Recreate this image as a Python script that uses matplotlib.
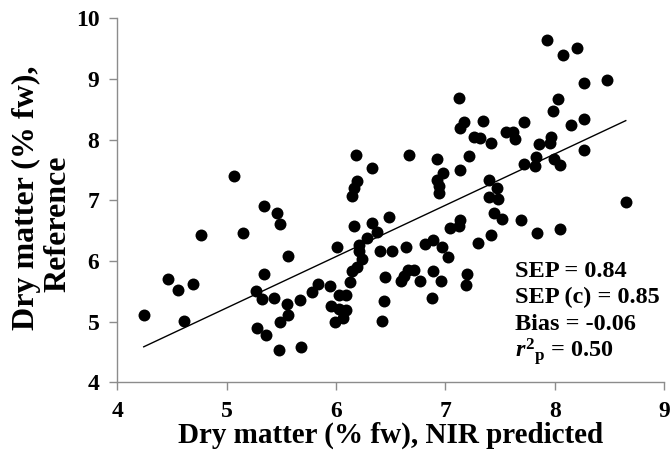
import numpy as np
import matplotlib
matplotlib.use("Agg")
import matplotlib.pyplot as plt

plt.rcParams['font.family'] = ['Liberation Serif', 'DejaVu Serif']
plt.rcParams['font.weight'] = 'bold'
plt.rcParams['mathtext.fontset'] = 'custom'
plt.rcParams['mathtext.rm'] = 'Liberation Serif:bold'
plt.rcParams['mathtext.it'] = 'Liberation Serif:italic:bold'
plt.rcParams['mathtext.bf'] = 'Liberation Serif:bold'

# NIR predicted dry matter (% fw)
nir_predicted = [
    4.24, 4.46, 4.55, 4.61, 4.69, 4.76, 5.07, 5.15, 5.27, 5.28,
    5.32, 5.34, 5.34, 5.36, 5.43, 5.46, 5.48, 5.49, 5.49, 5.55,
    5.56, 5.56, 5.67, 5.68, 5.78, 5.83, 5.94, 5.95, 5.99, 6.01,
    6.03, 6.09, 6.03, 6.09, 6.06, 6.13, 6.15, 6.19, 6.24, 6.21,
    6.21, 6.16, 6.28, 6.33, 6.37, 6.48, 6.40, 6.51, 6.64, 6.15,
    6.16, 6.19, 6.18, 6.33, 6.67, 6.45, 6.44, 6.42, 6.59, 6.62,
    6.66, 6.71, 6.77, 6.81, 6.89, 6.97, 7.02, 6.89, 6.96, 6.88,
    7.20, 7.19, 7.04, 7.12, 7.13, 7.30, 7.42, 7.44, 7.52, 7.69,
    7.84, 8.05, 7.40, 7.48, 7.40, 7.47, 7.13, 6.98, 6.92, 6.94,
    6.94, 6.92, 7.22, 7.72, 7.83, 7.82, 7.99, 8.05, 8.27, 7.86,
    7.97, 7.96, 8.15, 8.27, 7.72, 7.55, 7.62, 7.64, 7.42, 7.26,
    7.32, 7.17, 7.13, 7.34, 7.12, 7.98, 8.03, 8.27, 8.48, 7.93,
    8.08, 8.20, 8.65,
]
# Reference dry matter (% fw)
reference = [
    5.12, 5.70, 5.52, 5.01, 5.62, 6.43, 7.41, 6.46, 5.51, 4.90,
    5.38, 5.79, 6.91, 4.79, 5.40, 6.79, 4.54, 6.61, 4.99, 5.29,
    6.08, 5.11, 5.36, 4.58, 5.49, 5.63, 5.59, 5.26, 4.99, 6.24,
    5.44, 5.44, 5.21, 5.19, 5.06, 5.66, 5.84, 5.91, 6.03, 6.16,
    6.27, 6.57, 6.38, 6.63, 6.48, 6.72, 6.17, 6.16, 6.24, 7.07,
    7.20, 7.32, 7.74, 7.53, 7.75, 5.73, 5.35, 5.02, 5.68, 5.76,
    5.86, 5.86, 5.68, 6.28, 6.35, 6.24, 6.06, 5.83, 5.68, 5.39,
    5.79, 5.61, 6.55, 6.57, 6.68, 6.29, 6.43, 6.79, 6.69, 6.68,
    6.47, 6.53, 7.05, 7.03, 7.33, 7.20, 7.50, 7.45, 7.34, 7.23,
    7.12, 7.69, 7.73, 7.60, 7.71, 7.57, 7.69, 7.58, 7.83, 7.93,
    8.04, 7.95, 8.25, 8.34, 8.29, 8.13, 8.12, 8.01, 7.95, 8.05,
    8.02, 8.29, 8.19, 8.31, 8.68, 8.48, 8.67, 8.93, 8.98, 9.64,
    9.40, 9.51, 6.98,
]

# Fitted line
fit_slope = 0.845
fit_intercept = 1.005

stats_lines = ["SEP = 0.84", "SEP (c) = 0.85", "Bias = -0.06",
               r"$\mathit{r}^{2}{}_{\mathrm{p}}$ = 0.50"]

x_ticks = [4, 5, 6, 7, 8, 9]
y_ticks = [4, 5, 6, 7, 8, 9, 10]

fig = plt.figure(figsize=(6.71, 4.59), dpi=100)
ax = fig.add_axes([0.1751, 0.1667, 0.8145, 0.7934])

x = np.array(nir_predicted)
y = np.array(reference)
ax.plot(x, y, 'o', color='black', markersize=8.6, markeredgewidth=0, zorder=3)

xl = np.array([x.min(), x.max()])
ax.plot(xl, fit_slope * xl + fit_intercept, color='black', lw=1.0, zorder=2)

ax.set_xlim(4, 9)
ax.set_ylim(4, 10)
ax.set_xticks(x_ticks)
ax.set_yticks(y_ticks)
ax.set_xticklabels([str(t) for t in x_ticks])
ax.set_yticklabels([str(t) for t in y_ticks])

for s in ['top', 'right']:
    ax.spines[s].set_visible(False)
for s in ['left', 'bottom']:
    ax.spines[s].set_color('#8c8c8c')
    ax.spines[s].set_linewidth(1.0)
ax.tick_params(axis='both', direction='out', length=6, width=1.0, color='#8c8c8c',
               labelsize=17, pad=7)
for lab in ax.get_xticklabels() + ax.get_yticklabels():
    lab.set_fontweight('bold')

ax.set_xlabel("Dry matter (% fw), NIR predicted", fontsize=21, fontweight='bold', labelpad=0)

fig.text(26 / 671, 1 - 198 / 459, "Dry matter (% fw),", rotation=90, fontsize=23,
         fontweight='bold', ha='center', va='center')
fig.text(58 / 671, 1 - 224 / 459, "Reference", rotation=90, fontsize=23,
         fontweight='bold', ha='center', va='center')

baselines = [5.74, 5.31, 4.86, 4.41]
for txt, yb in zip(stats_lines, baselines):
    ax.text(7.64, yb, txt, fontsize=17.5, fontweight='bold', ha='left', va='baseline')

fig.savefig("out.png", dpi=100)
